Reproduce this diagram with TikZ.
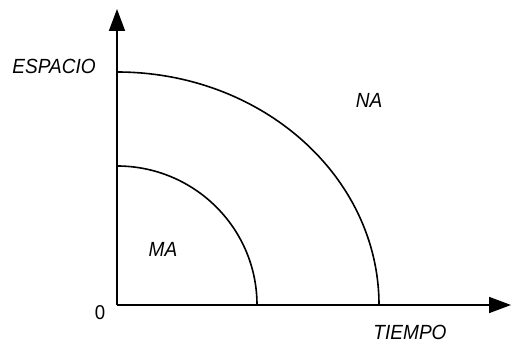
\documentclass[tikz,border=0pt]{standalone}
\usepackage{fontspec}
\usepackage{graphicx}
\setmainfont{Liberation Sans}
\usetikzlibrary{arrows.meta}
\newcommand{\narrowtxt}[1]{\scalebox{0.93}[1]{#1}}
\begin{document}
\begin{tikzpicture}[x=1pt,y=-1pt,
  axis/.style={line width=1.8pt,-{Triangle[length=22pt,width=16pt]}},
  curve/.style={line width=1.6pt},
  lbl/.style={font=\fontsize{20.5}{20.5}\selectfont\itshape,inner sep=0pt},
  zero/.style={font=\fontsize{20}{20}\selectfont,inner sep=0pt}]
\useasboundingbox (0,0) rectangle (511,344);
\coordinate (O) at (117,305);
\coordinate (Ytip) at (117,9);
\coordinate (Xtip) at (511,305);
\coordinate (Otop) at (117,72);
\coordinate (Itop) at (117,166);
\draw[axis] (O) -- (Ytip);
\draw[axis] (O) -- (Xtip);
\draw[curve] (Otop) arc[start angle=90,end angle=0,x radius=262,y radius=-233];
\draw[curve] (Itop) arc[start angle=90,end angle=0,x radius=140,y radius=-139];
\node[lbl] (esp) at (54,66.5) {\narrowtxt{ESPACIO}};
\node[lbl] (na) at (369,100) {\narrowtxt{NA}};
\node[lbl] (ma) at (163,249.5) {\narrowtxt{MA}};
\node[lbl] (tie) at (410,332) {\narrowtxt{TIEMPO}};
\node[zero] (z) at (100,313) {\narrowtxt{0}};
\end{tikzpicture}
\end{document}
